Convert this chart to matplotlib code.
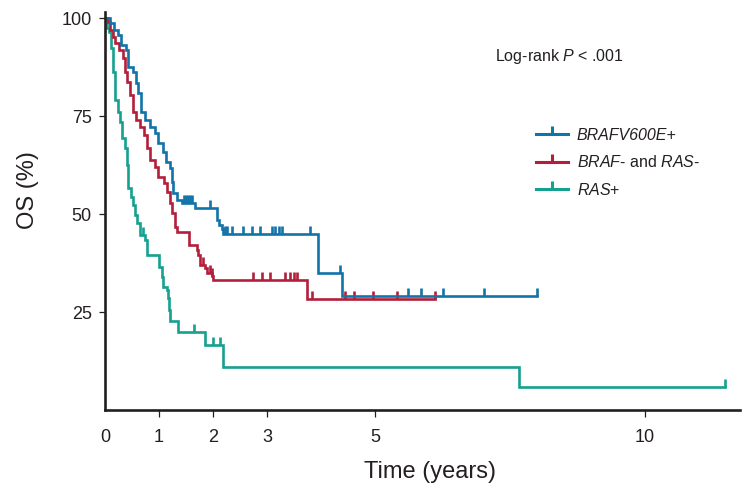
import numpy as np
import matplotlib
matplotlib.use('Agg')
import matplotlib.pyplot as plt
from matplotlib.lines import Line2D

# Kaplan-Meier steps: event times (years) and OS (%) after each drop
BRAF_T = [0.09, 0.17, 0.24, 0.30, 0.39, 0.43, 0.52, 0.57, 0.61, 0.67, 0.74, 0.83,
          0.93, 0.98, 1.07, 1.13, 1.20, 1.24, 1.26, 1.33, 1.43, 1.67, 2.07, 2.08,
          2.11, 2.17, 2.19, 3.94, 4.39]
BRAF_S = [98.7, 96.9, 95.7, 93.1, 91.8, 87.5, 86.2, 83.4, 80.9, 76.0, 74.0, 72.2,
          70.7, 68.1, 65.8, 63.3, 61.7, 58.2, 55.4, 53.6, 52.8, 51.5, 50.3, 48.5,
          47.2, 46.2, 44.9, 34.9, 29.0]
BRAF_CENS = [1.46, 1.50, 1.54, 1.58, 1.62, 1.94, 2.22, 2.26, 2.35, 2.56, 2.72, 2.87,
             3.09, 3.15, 3.22, 3.28, 3.80, 4.35, 5.61, 5.85, 6.26, 7.02, 8.00]
BRAF_END = 8.0

NEG_T = [0.06, 0.09, 0.15, 0.19, 0.26, 0.33, 0.37, 0.41, 0.46, 0.52, 0.57, 0.65,
         0.72, 0.78, 0.83, 0.93, 0.98, 1.09, 1.15, 1.20, 1.24, 1.30, 1.33, 1.56,
         1.70, 1.72, 1.76, 1.85, 1.89, 1.98, 2.00, 3.74]
NEG_S = [99.0, 96.9, 95.2, 93.6, 91.8, 89.8, 86.2, 83.7, 80.4, 76.0, 74.0, 72.2,
         70.2, 66.8, 63.8, 62.0, 59.4, 57.9, 55.6, 52.8, 50.3, 46.7, 45.4, 42.1,
         40.8, 39.5, 37.0, 36.2, 34.9, 34.2, 33.2, 28.3]
NEG_CENS = [1.81, 1.94, 1.99, 2.74, 2.91, 3.06, 3.33, 3.43, 3.50, 3.56, 3.83, 4.44,
            4.61, 4.96, 5.41, 6.11]
NEG_END = 6.11

RAS_T = [0.04, 0.07, 0.11, 0.15, 0.19, 0.24, 0.28, 0.31, 0.37, 0.41, 0.43, 0.48,
         0.52, 0.56, 0.59, 0.65, 0.74, 0.78, 1.00, 1.06, 1.07, 1.15, 1.17, 1.19,
         1.20, 1.35, 1.85, 2.19, 7.67]
RAS_S = [97.4, 96.4, 92.3, 86.2, 79.1, 76.0, 73.5, 69.4, 66.8, 62.5, 56.6, 54.3,
         52.3, 49.7, 47.7, 44.6, 43.4, 39.5, 36.5, 33.9, 31.4, 30.6, 28.6, 25.5,
         22.7, 19.9, 16.6, 11.0, 5.9]
RAS_CENS = [0.70, 1.65, 2.00, 2.13, 11.48]
RAS_END = 11.48

LABELS = ['BRAFV600E+', r'$\mathit{BRAF}$- and $\mathit{RAS}$-', r'$\mathit{RAS}$+']
COLORS = ['#1273a8', '#b31f3a', '#16a090']
X_TICKS = [0, 1, 2, 3, 5, 10]
Y_TICKS = [25, 50, 75, 100]

plt.rcParams['mathtext.fontset'] = 'custom'
plt.rcParams['mathtext.rm'] = 'Liberation Sans'
plt.rcParams['mathtext.it'] = 'Liberation Sans:italic'

TEXT_FONT = ['Liberation Sans', 'DejaVu Sans']
AXIS_COLOR = '#231f20'

fig = plt.figure(figsize=(7.52, 4.91), dpi=100)
ax = fig.add_axes([105 / 752, 1 - 410 / 491, (740 - 105) / 752, (410 - 12) / 491])


def km_curve(ax, times, surv, cens, end, color):
    t = np.concatenate([[0.0], times, [end]])
    s = np.concatenate([[100.0], surv, [surv[-1]]])
    ax.step(t, s, where='post', color=color, lw=1.9, solid_joinstyle='miter')
    # censor marks sit on the step level at each censor time
    idx = np.searchsorted(t, cens, side='right') - 1
    ax.plot(cens, s[idx], ls='none', marker=2, markersize=6,
            markeredgewidth=1.9, color=color)


km_curve(ax, RAS_T, RAS_S, RAS_CENS, RAS_END, COLORS[2])
km_curve(ax, NEG_T, NEG_S, NEG_CENS, NEG_END, COLORS[1])
km_curve(ax, BRAF_T, BRAF_S, BRAF_CENS, BRAF_END, COLORS[0])

ax.set_xlim(0, (740 - 105) / 54)
ax.set_ylim(0, (410 - 12) / 3.92)
for side in ['top', 'right']:
    ax.spines[side].set_visible(False)
for side in ['left', 'bottom']:
    ax.spines[side].set_linewidth(1.9)
    ax.spines[side].set_color(AXIS_COLOR)

ax.set_xticks(X_TICKS)
ax.set_yticks(Y_TICKS)
ax.tick_params(axis='x', direction='out', length=5, width=0.9, pad=9,
               colors=AXIS_COLOR, labelsize=13)
ax.tick_params(axis='y', direction='out', length=4.5, width=0.9, pad=5,
               colors=AXIS_COLOR, labelsize=13)
ax.xaxis.get_major_ticks()[0].tick1line.set_visible(False)
for lab in ax.get_xticklabels() + ax.get_yticklabels():
    lab.set_family(TEXT_FONT)

fig.text(430 / 752, 1 - 472 / 491, 'Time (years)', ha='center', va='center',
         fontsize=17, family=TEXT_FONT, color=AXIS_COLOR)
fig.text(28 / 752, 1 - 190 / 491, 'OS (%)', ha='center', va='center',
         rotation=90, fontsize=17, family=TEXT_FONT, color=AXIS_COLOR)

fig.text(495 / 752, 1 - 57 / 491, r'Log-rank $P$ < .001', ha='left', va='center',
         fontsize=11.5, family=TEXT_FONT, color=AXIS_COLOR)

handles = [Line2D([], [], color=c, lw=2.2, marker=2, markersize=6,
                  markeredgewidth=2.2) for c in COLORS]
leg = fig.legend(handles, LABELS, loc='upper left',
                 bbox_to_anchor=(536 / 752, 1 - 128 / 491),
                 frameon=False, handlelength=2.0, handletextpad=0.55,
                 labelspacing=0.72, borderpad=0, borderaxespad=0,
                 numpoints=1, prop={'family': TEXT_FONT, 'size': 11.5})
for txt in leg.get_texts():
    txt.set_color(AXIS_COLOR)
leg.get_texts()[0].set_fontstyle('italic')

fig.savefig('out.png', dpi=100)
